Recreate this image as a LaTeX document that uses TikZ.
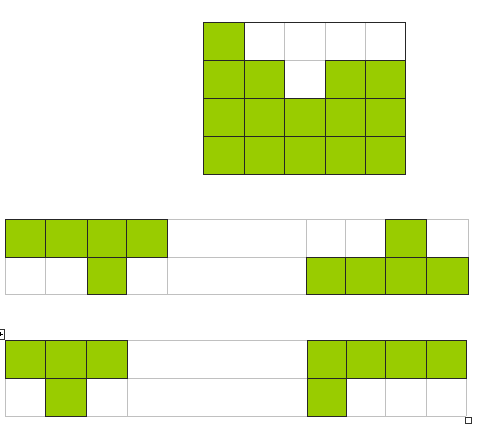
\documentclass[tikz,border=0pt]{standalone}
\usepackage{tikz}

\definecolor{leaf}{RGB}{153,204,0}
\definecolor{rulegray}{RGB}{192,192,192}

\begin{document}
\begin{tikzpicture}[x=1pt, y=-1pt,
  grid/.style={draw=rulegray, line width=1pt},
  cell/.style={fill=leaf, draw=black!85, line width=1pt},
  handle/.style={draw=black!80, fill=white, line width=0.8pt}]
  \useasboundingbox (0,0) rectangle (500,439);

  % 上の表
  \foreach \x in {203,244,284,325,365,405}
    \draw[grid] (\x,22) -- (\x,174);
  \foreach \y in {22,60,98,136,174}
    \draw[grid] (203,\y) -- (405,\y);
  \draw[cell] (203,22) rectangle (244,60);
  \foreach \xa/\xb in {203/244,244/284,325/365,365/405}
    \draw[cell] (\xa,60) rectangle (\xb,98);
  \foreach \xa/\xb in {203/244,244/284,284/325,325/365,365/405}
    \foreach \ya/\yb in {98/136,136/174}
      \draw[cell] (\xa,\ya) rectangle (\xb,\yb);
  \draw[black!85, line width=1pt] (203,22) rectangle (405,174);

  % 中の表
  \foreach \x in {5,45,87,126,167,306,345,385,426,468}
    \draw[grid] (\x,219) -- (\x,294);
  \foreach \y in {219,257,294}
    \draw[grid] (5,\y) -- (468,\y);
  \foreach \xa/\xb in {5/45,45/87,87/126,126/167,385/426}
    \draw[cell] (\xa,219) rectangle (\xb,257);
  \foreach \xa/\xb in {87/126,306/345,345/385,385/426,426/468}
    \draw[cell] (\xa,257) rectangle (\xb,294);

  % 下の表
  \foreach \x in {5,45,86,127,307,346,385,426,466}
    \draw[grid] (\x,340) -- (\x,416);
  \foreach \y in {340,378,416}
    \draw[grid] (5,\y) -- (466,\y);
  \foreach \xa/\xb in {5/45,45/86,86/127,307/346,346/385,385/426,426/466}
    \draw[cell] (\xa,340) rectangle (\xb,378);
  \foreach \xa/\xb in {45/86,307/346}
    \draw[cell] (\xa,378) rectangle (\xb,416);

  % ハンドル
  \draw[handle] (-6,329) rectangle (4.5,339);
  \draw[black, line width=0.6pt] (-1.5,334) -- (2.5,334) (0.5,332) -- (0.5,336);
  \draw[handle] (465,417) rectangle (471,423);
\end{tikzpicture}
\end{document}
